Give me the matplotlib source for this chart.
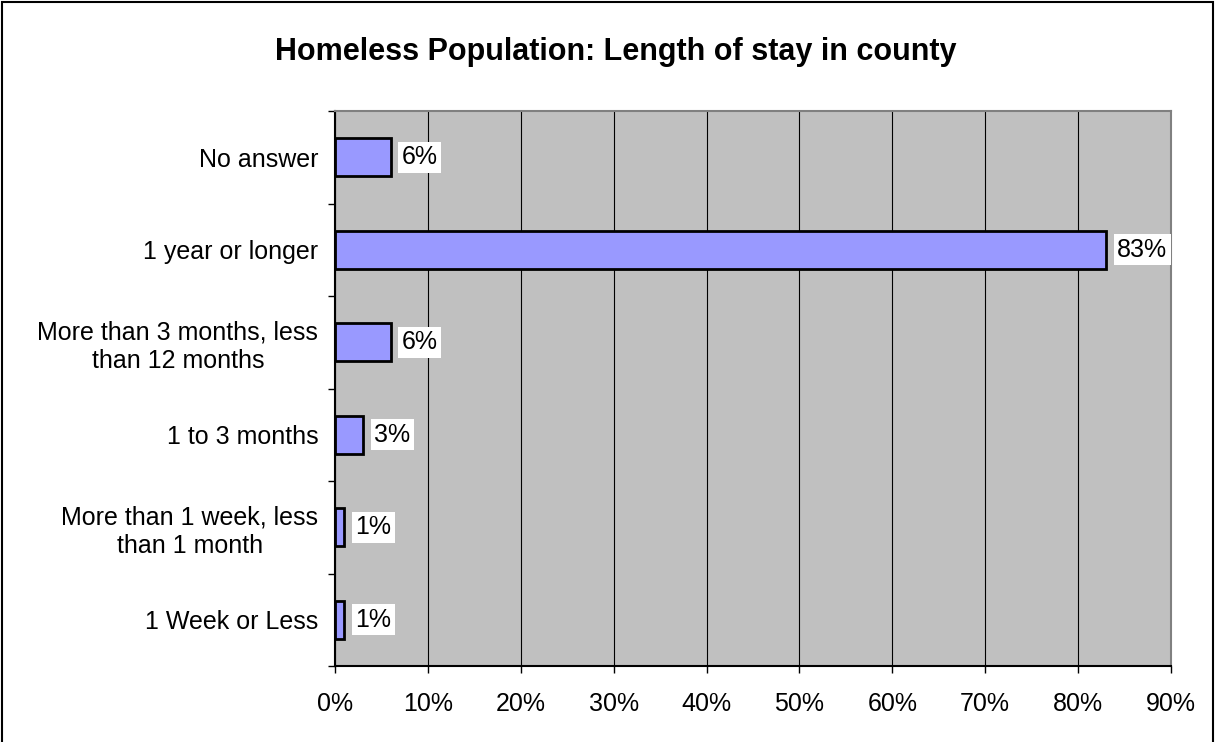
import numpy as np
import matplotlib.pyplot as plt
from matplotlib.patches import Rectangle

plt.rcParams['font.family'] = ['Liberation Sans', 'DejaVu Sans']

categories = ["1 Week or Less",
              "More than 1 week, less\nthan 1 month",
              "1 to 3 months",
              "More than 3 months, less\nthan 12 months",
              "1 year or longer",
              "No answer"]
values = [1, 1, 3, 6, 83, 6]
xticks = [0, 10, 20, 30, 40, 50, 60, 70, 80, 90]

fig = plt.figure(figsize=(12.15, 7.42), dpi=100)
ax = fig.add_axes([335/1215, 1-666/742, 836/1215, 555/742])
ax.set_facecolor('#C0C0C0')

y = np.arange(len(categories))
ax.barh(y, values, height=0.41, color='#9999FF', edgecolor='black', linewidth=2, zorder=3)

for yi, v in zip(y, values):
    ax.text(v + 1.2, yi, "%d%%" % v, va='center', ha='left', fontsize=18,
            bbox=dict(facecolor='white', edgecolor='none', pad=2.5), zorder=4)

ax.set_xlim(0, 90)
ax.set_ylim(-0.5, len(categories) - 0.5)
ax.set_xticks(xticks)
ax.set_xticklabels(["%d%%" % t for t in xticks], fontsize=18)
ax.xaxis.grid(True, color='black', linewidth=0.8, zorder=1)

ax.set_yticks(y)
ax.set_yticklabels(categories, fontsize=18, linespacing=1.2)
ax.set_yticks(np.arange(-0.5, len(categories), 1), minor=True)
ax.tick_params(axis='y', which='major', length=0, pad=12)
ax.tick_params(axis='y', which='minor', length=5, width=1)
ax.tick_params(axis='x', length=5, width=1, pad=14)
for lbl in ax.get_yticklabels():
    lbl.set_horizontalalignment('right')
    lbl.set_multialignment('center')

ax.spines['left'].set_color('black')
ax.spines['bottom'].set_color('black')
ax.spines['top'].set_color('#808080')
ax.spines['right'].set_color('#808080')
for s in ax.spines.values():
    s.set_linewidth(1.5)

fig.text(616/1215, 1-52/742, "Homeless Population: Length of stay in county",
         ha='center', va='center', fontsize=22, fontweight='bold')

fig.patches.append(Rectangle((2/1215, -0.01), 1-4/1215, 1-2/742+0.01, transform=fig.transFigure,
                             fill=False, edgecolor='black', linewidth=1.5))

fig.savefig('out.png', dpi=100)
